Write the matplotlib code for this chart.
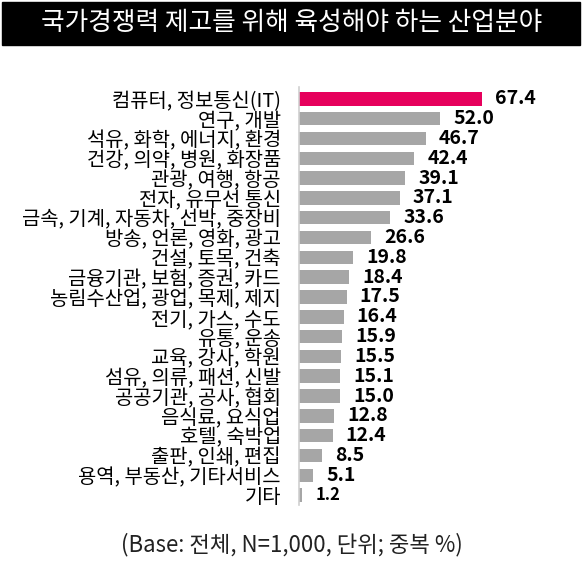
import matplotlib
matplotlib.use("Agg")
import matplotlib.pyplot as plt
from matplotlib.patches import Rectangle

plt.rcParams['font.family'] = ['Noto Sans CJK KR', 'DejaVu Sans']

title = "국가경쟁력 제고를 위해 육성해야 하는 산업분야"
note = "(Base: 전체, N=1,000, 단위; 중복 %)"

categories = [
    "컴퓨터, 정보통신(IT)", "연구, 개발", "석유, 화학, 에너지, 환경",
    "건강, 의약, 병원, 화장품", "관광, 여행, 항공", "전자, 유무선 통신",
    "금속, 기계, 자동차, 선박, 중장비", "방송, 언론, 영화, 광고",
    "건설, 토목, 건축", "금융기관, 보험, 증권, 카드",
    "농림수산업, 광업, 목제, 제지", "전기, 가스, 수도", "유통, 운송",
    "교육, 강사, 학원", "섬유, 의류, 패션, 신발", "공공기관, 공사, 협회",
    "음식료, 요식업", "호텔, 숙박업", "출판, 인쇄, 편집",
    "용역, 부동산, 기타서비스", "기타",
]
values = [67.4, 52.0, 46.7, 42.4, 39.1, 37.1, 33.6, 26.6, 19.8, 18.4,
          17.5, 16.4, 15.9, 15.5, 15.1, 15.0, 12.8, 12.4, 8.5, 5.1, 1.2]

W, H = 583, 573
fig = plt.figure(figsize=(W / 100, H / 100), dpi=100)

# title bar
fig.patches.append(Rectangle((2 / W, 1 - 45 / H), 578 / W, 43 / H,
                             transform=fig.transFigure, color="black", zorder=0))
fig.text(0.5, 1 - 23 / H, title, color="white", fontsize=18.5,
         ha="center", va="center")

ax = fig.add_axes([299 / W, 1 - 505 / H, 271.5 / W, 418 / H])
n = len(categories)
ypos = list(range(n))
colors = ["#E6005C"] + ["#A6A6A6"] * (n - 1)
ax.barh(ypos, values, height=0.68, color=colors, zorder=2)

for y, v in zip(ypos, values):
    # the smallest value is printed a bit smaller, as in the source
    size = 12 if v < 2 else 14
    ax.annotate(f"{v:.1f}", (v, y), xytext=(9.5, 0), textcoords="offset points",
                ha="left", va="center", fontsize=size, fontweight="bold",
                color="black")

ax.set_xlim(0, 100)
ax.set_ylim(n - 0.5, -0.6)
ax.set_yticks(ypos)
ax.set_yticklabels(categories, fontsize=14.3, fontweight="medium")
ax.tick_params(axis="y", length=0, pad=13)
ax.set_xticks([])
for side in ["top", "right", "bottom"]:
    ax.spines[side].set_visible(False)
ax.spines["left"].set_color("#D0D0D0")
ax.spines["left"].set_linewidth(1.2)

fig.text(0.5, 1 - 545 / H, note, fontsize=16, color="#222222",
         ha="center", va="center")

fig.savefig("out.png", dpi=100)
